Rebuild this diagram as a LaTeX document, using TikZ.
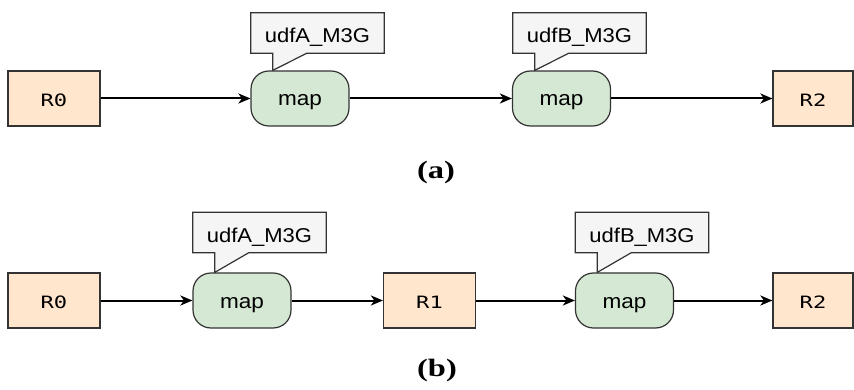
\documentclass[tikz,border=0pt]{standalone}
\usepackage{fontspec}
\newfontfamily\sansf{Liberation Sans}
\newfontfamily\monof{DejaVu Sans Mono}
\newfontfamily\serifb{Liberation Serif}
\usetikzlibrary{arrows.meta,backgrounds,calc}
\definecolor{rfill}{HTML}{FFE6CC}
\definecolor{mfill}{HTML}{D5E8D4}
\definecolor{cfill}{HTML}{F5F5F5}
\definecolor{edge}{HTML}{333333}
\newcommand{\wsans}[1]{\scalebox{1.1}[1]{#1}}
\newcommand{\wmono}[1]{\scalebox{1.3}[1]{#1}}
\newcommand{\wlab}[1]{\scalebox{1.3}[1]{#1}}
\tikzset{
  rbox/.style={draw=edge, line width=1.2pt, fill=rfill, minimum width=92pt, minimum height=55pt, inner sep=0pt, text height=16.6pt, text depth=0pt, font=\monof\fontsize{17}{19}\selectfont},
  mapbox/.style={draw=edge, line width=1.2pt, fill=mfill, rounded corners=18pt, minimum width=98pt, minimum height=55pt, inner sep=0pt, text height=15pt, text depth=0pt, font=\sansf\fontsize{20.5}{22}\selectfont},
  calltext/.style={minimum width=133pt, minimum height=40pt, inner sep=0pt, text height=19.4pt, text depth=0pt, font=\sansf\fontsize{20}{22}\selectfont},
  callshape/.style={draw=edge, line width=1.2pt, fill=cfill, line join=miter},
  arr/.style={draw=black, line width=2pt, -{Stealth[length=12pt,width=10pt,inset=3.5pt]}},
  sublabel/.style={font=\serifb\bfseries\fontsize{25}{28}\selectfont, inner sep=0pt}
}
\begin{document}
\begin{tikzpicture}[x=1pt,y=-1pt]
\useasboundingbox (0,0) rectangle (854,390);
% ---------- (a) ----------
\node[rbox] (r0a) at (54,98.5) {\wmono{R0}};
\node[mapbox] (mAa) at (300,98.5) {\wsans{map}};
\node[mapbox] (mBa) at (561.5,98.5) {\wsans{map}};
\node[rbox, minimum width=80pt] (r2a) at (813,98.5) {\wmono{R2}};
\node[calltext] (cAa) at (317.5,33) {\wsans{udfA\_M3G}};
\node[calltext] (cBa) at (579.5,33) {\wsans{udfB\_M3G}};
% ---------- (b) ----------
\node[rbox] (r0b) at (54,300.5) {\wmono{R0}};
\node[mapbox] (mAb) at (242,300.5) {\wsans{map}};
\node[rbox] (r1b) at (429.5,300.5) {\wmono{R1}};
\node[mapbox] (mBb) at (624.5,300.5) {\wsans{map}};
\node[rbox, minimum width=80pt] (r2b) at (813,300.5) {\wmono{R2}};
\node[calltext] (cAb) at (259.5,232.5) {\wsans{udfA\_M3G}};
\node[calltext] (cBb) at (642,232.5) {\wsans{udfB\_M3G}};
% callout shapes
\begin{scope}[on background layer]
\foreach \c/\m in {cAa/mAa, cBa/mBa, cAb/mAb, cBb/mBb}{
  \coordinate (\c t1) at ($(\c.south west)+(22,0)$);
  \coordinate (\c t2) at ($(\c.south west)+(56,0)$);
  \filldraw[callshape] (\c.north west) -- (\c.north east) -- (\c.south east)
     -- (\c t2) -- (\c t1 |- \m.north) -- (\c t1) -- (\c.south west) -- cycle;
}
\end{scope}
% connectors
\draw[arr] (r0a) -- (mAa);
\draw[arr] (mAa) -- (mBa);
\draw[arr] (mBa) -- (r2a);
\draw[arr] (r0b) -- (mAb);
\draw[arr] (mAb) -- (r1b);
\draw[arr] (r1b) -- (mBb);
\draw[arr] (mBb) -- (r2b);
% labels
\node[sublabel] (la) at (436,172) {\wlab{(a)}};
\node[sublabel] (lb) at (437,370) {\wlab{(b)}};
\end{tikzpicture}
\end{document}
